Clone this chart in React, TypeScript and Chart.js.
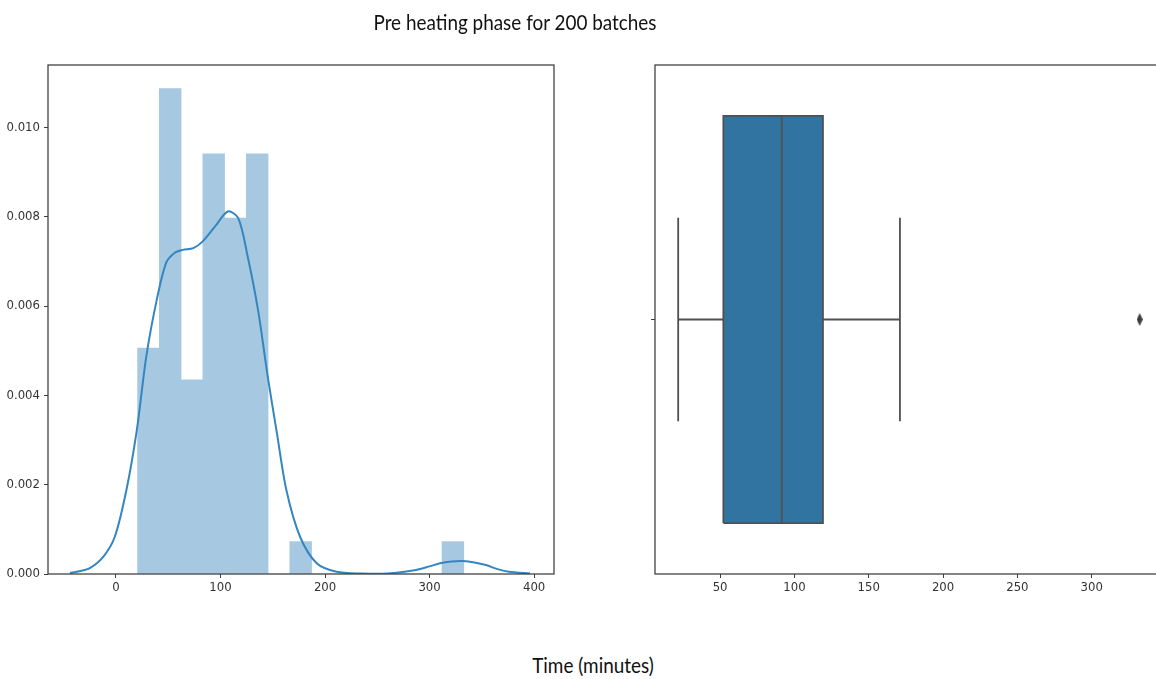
import React, { useEffect, useRef } from "react";
import { Chart, registerables } from "chart.js";

Chart.register(...registerables);

// ---------- data: left panel (histogram + KDE) ----------
const histBinCenters = [31.1, 51.9, 72.7, 93.5, 114.3, 135.1, 155.9, 176.7, 197.5, 218.3, 239.1, 259.9, 280.7, 301.5, 322.3];
const histDensity = [0.00506, 0.01087, 0.00435, 0.00941, 0.00797, 0.00941, 0, 0.000725, 0, 0, 0, 0, 0, 0, 0.000725];

const kdeX = [-44, -35, -25, -12, -1, 10, 20, 29, 39, 48, 56, 64, 74, 83, 95, 107, 117, 126, 136, 145, 154, 163, 176, 192, 211, 235, 260, 287, 300, 310, 321, 332, 343, 354, 365, 376, 396];
const kdeY = [0.00002, 0.00006, 0.00013, 0.00039, 0.00084, 0.00188, 0.00323, 0.00487, 0.00614, 0.00697, 0.00719, 0.00726, 0.0073, 0.00745, 0.00779, 0.00812, 0.00797, 0.00711, 0.0059, 0.00445, 0.00315, 0.00188, 0.00084, 0.00024, 0.00005, 0.00001, 0.00001, 0.00009, 0.00017, 0.00024, 0.00028, 0.00029, 0.00026, 0.0002, 0.00011, 0.00005, 0.00001];

const leftXTicks = [0, 100, 200, 300, 400];
const leftYTicks = [0, 0.002, 0.004, 0.006, 0.008, 0.01];

// ---------- data: right panel (box plot) ----------
const whiskerLow = 21.8;
const quartile1 = 52.2;
const medianValue = 91.5;
const quartile3 = 119.2;
const whiskerHigh = 171;
const outliers = [332.3];
const rightXTicks = [50, 100, 150, 200, 250, 300];

const TITLE = "Pre heating phase for 200 batches";
const XLABEL = "Time (minutes)";

const TICK_FONT = { family: '"Liberation Sans Narrow", "DejaVu Sans Condensed", "Liberation Sans", sans-serif', size: 13 };
const TICK_COLOR = "#333333";
const FRAME_COLOR = "#3c3c3c";

const framePlugin = {
  id: "frame",
  afterDatasetsDraw(chart: any) {
    const { ctx, chartArea } = chart;
    const { left, top, right, bottom } = chartArea;
    ctx.save();
    ctx.strokeStyle = FRAME_COLOR;
    ctx.lineWidth = 1.25;
    ctx.strokeRect(left, top, right - left, bottom - top);
    ctx.restore();
  },
};

function axisCommon() {
  return {
    grid: { display: true, offset: false, drawOnChartArea: false, drawTicks: true, tickLength: 4, color: FRAME_COLOR, lineWidth: 1 },
    border: { display: false },
  };
}

function LeftChart() {
  const ref = useRef<HTMLCanvasElement | null>(null);
  useEffect(() => {
    if (!ref.current) return;
    const chart = new Chart(ref.current, {
      type: "bar",
      data: {
        datasets: [
          {
            type: "line",
            data: kdeX.map((x, i) => ({ x, y: kdeY[i] })),
            borderColor: "rgb(52,134,192)",
            borderWidth: 2,
            pointRadius: 0,
            fill: false,
            tension: 0.3,
            order: 0,
          } as any,
          {
            type: "bar",
            data: histBinCenters.map((x, i) => ({ x, y: histDensity[i] })),
            backgroundColor: "rgb(166,201,225)",
            borderWidth: 0,
            barPercentage: 1,
            categoryPercentage: 1,
            grouped: false,
            order: 1,
          } as any,
        ],
      },
      options: {
        responsive: false,
        animation: false,
        devicePixelRatio: 1,
        layout: { padding: { top: 65, right: 26, left: 0, bottom: 0 } },
        plugins: { legend: { display: false }, tooltip: { enabled: false }, title: { display: false } },
        scales: {
          x: {
            type: "linear",
            min: -65,
            max: 419,
            offset: false,
            ...axisCommon(),
            afterBuildTicks: (s: any) => { s.ticks = leftXTicks.map((v) => ({ value: v })); },
            afterFit: (s: any) => { s.height = 46; },
            ticks: { font: TICK_FONT, color: TICK_COLOR, padding: 2, maxRotation: 0, callback: (v: any) => String(v) },
          },
          y: {
            type: "linear",
            min: 0,
            max: 0.0114,
            ...axisCommon(),
            afterBuildTicks: (s: any) => { s.ticks = leftYTicks.map((v) => ({ value: v })); },
            afterFit: (s: any) => { s.width = 48; },
            ticks: { font: TICK_FONT, color: TICK_COLOR, padding: 4, callback: (v: any) => Number(v).toFixed(3) },
          },
        },
      } as any,
      plugins: [framePlugin],
    });
    return () => chart.destroy();
  }, []);
  return <canvas ref={ref} width={580} height={620} style={{ position: "absolute", left: 0, top: 0, width: 580, height: 620 }} />;
}

function RightChart() {
  const ref = useRef<HTMLCanvasElement | null>(null);
  useEffect(() => {
    if (!ref.current) return;
    const diamond = document.createElement("canvas");
    diamond.width = 6;
    diamond.height = 13;
    const dctx = diamond.getContext("2d")!;
    dctx.fillStyle = "#3d3d3d";
    dctx.beginPath();
    dctx.moveTo(3, 0);
    dctx.lineTo(6, 6.5);
    dctx.lineTo(3, 13);
    dctx.lineTo(0, 6.5);
    dctx.closePath();
    dctx.fill();

    const edge = "#505050";
    const lineDs = (pts: { x: number; y: number }[], extra: any = {}) => ({
      type: "line",
      data: pts,
      borderColor: edge,
      borderWidth: 1.8,
      pointRadius: 0,
      fill: false,
      tension: 0,
      order: 0,
      ...extra,
    });

    const chart = new Chart(ref.current, {
      type: "scatter",
      data: {
        datasets: [
          lineDs([{ x: quartile1, y: -0.4 }, { x: quartile3, y: -0.4 }], { borderWidth: 0, order: 20 }),
          lineDs([{ x: quartile1, y: 0.4 }, { x: quartile3, y: 0.4 }], { borderWidth: 0, fill: 0, backgroundColor: "#3274a1", order: 10 }),
          lineDs([
            { x: quartile1, y: -0.4 },
            { x: quartile3, y: -0.4 },
            { x: quartile3, y: 0.4 },
            { x: quartile1, y: 0.4 },
            { x: quartile1, y: -0.4 },
          ]),
          lineDs([{ x: medianValue, y: -0.4 }, { x: medianValue, y: 0.4 }]),
          lineDs([{ x: whiskerLow, y: 0 }, { x: quartile1, y: 0 }]),
          lineDs([{ x: quartile3, y: 0 }, { x: whiskerHigh, y: 0 }]),
          lineDs([{ x: whiskerLow, y: -0.2 }, { x: whiskerLow, y: 0.2 }]),
          lineDs([{ x: whiskerHigh, y: -0.2 }, { x: whiskerHigh, y: 0.2 }]),
          {
            type: "scatter",
            data: outliers.map((x) => ({ x, y: 0 })),
            pointStyle: diamond,
            pointRadius: 5,
            showLine: false,
            order: 0,
          } as any,
        ] as any,
      },
      options: {
        responsive: false,
        animation: false,
        devicePixelRatio: 1,
        layout: { padding: { top: 65, right: 37, left: 0, bottom: 0 } },
        plugins: { legend: { display: false }, tooltip: { enabled: false }, title: { display: false } },
        scales: {
          x: {
            type: "linear",
            min: 6.2,
            max: 348,
            ...axisCommon(),
            afterBuildTicks: (s: any) => { s.ticks = rightXTicks.map((v) => ({ value: v })); },
            afterFit: (s: any) => { s.height = 46; },
            ticks: { font: TICK_FONT, color: TICK_COLOR, padding: 2, maxRotation: 0, callback: (v: any) => String(v) },
          },
          y: {
            type: "linear",
            min: -0.5,
            max: 0.5,
            ...axisCommon(),
            afterBuildTicks: (s: any) => { s.ticks = [{ value: 0 }]; },
            afterFit: (s: any) => { s.width = 55; },
            ticks: { font: TICK_FONT, color: TICK_COLOR, padding: 2, callback: () => "" },
          },
        },
      } as any,
      plugins: [framePlugin],
    });
    return () => chart.destroy();
  }, []);
  return <canvas ref={ref} width={600} height={620} style={{ position: "absolute", left: 600, top: 0, width: 600, height: 620 }} />;
}

export default function App() {
  const textFont = 'Lato, "Noto Sans", sans-serif';
  const textStyle: React.CSSProperties = {
    position: "absolute",
    textAlign: "center",
    fontFamily: textFont,
    fontSize: 21,
    color: "#111",
    transform: "scaleX(0.9)",
    whiteSpace: "nowrap",
    lineHeight: "26px",
  };
  return (
    <div style={{ position: "fixed", left: 0, top: 0, width: 1156, height: 679, overflow: "hidden", background: "#ffffff" }}>
      <LeftChart />
      <RightChart />
      <div style={{ ...textStyle, left: 315, width: 400, top: 9 }}>{TITLE}</div>
      <div style={{ ...textStyle, left: 443, width: 300, top: 652 }}>{XLABEL}</div>
    </div>
  );
}
